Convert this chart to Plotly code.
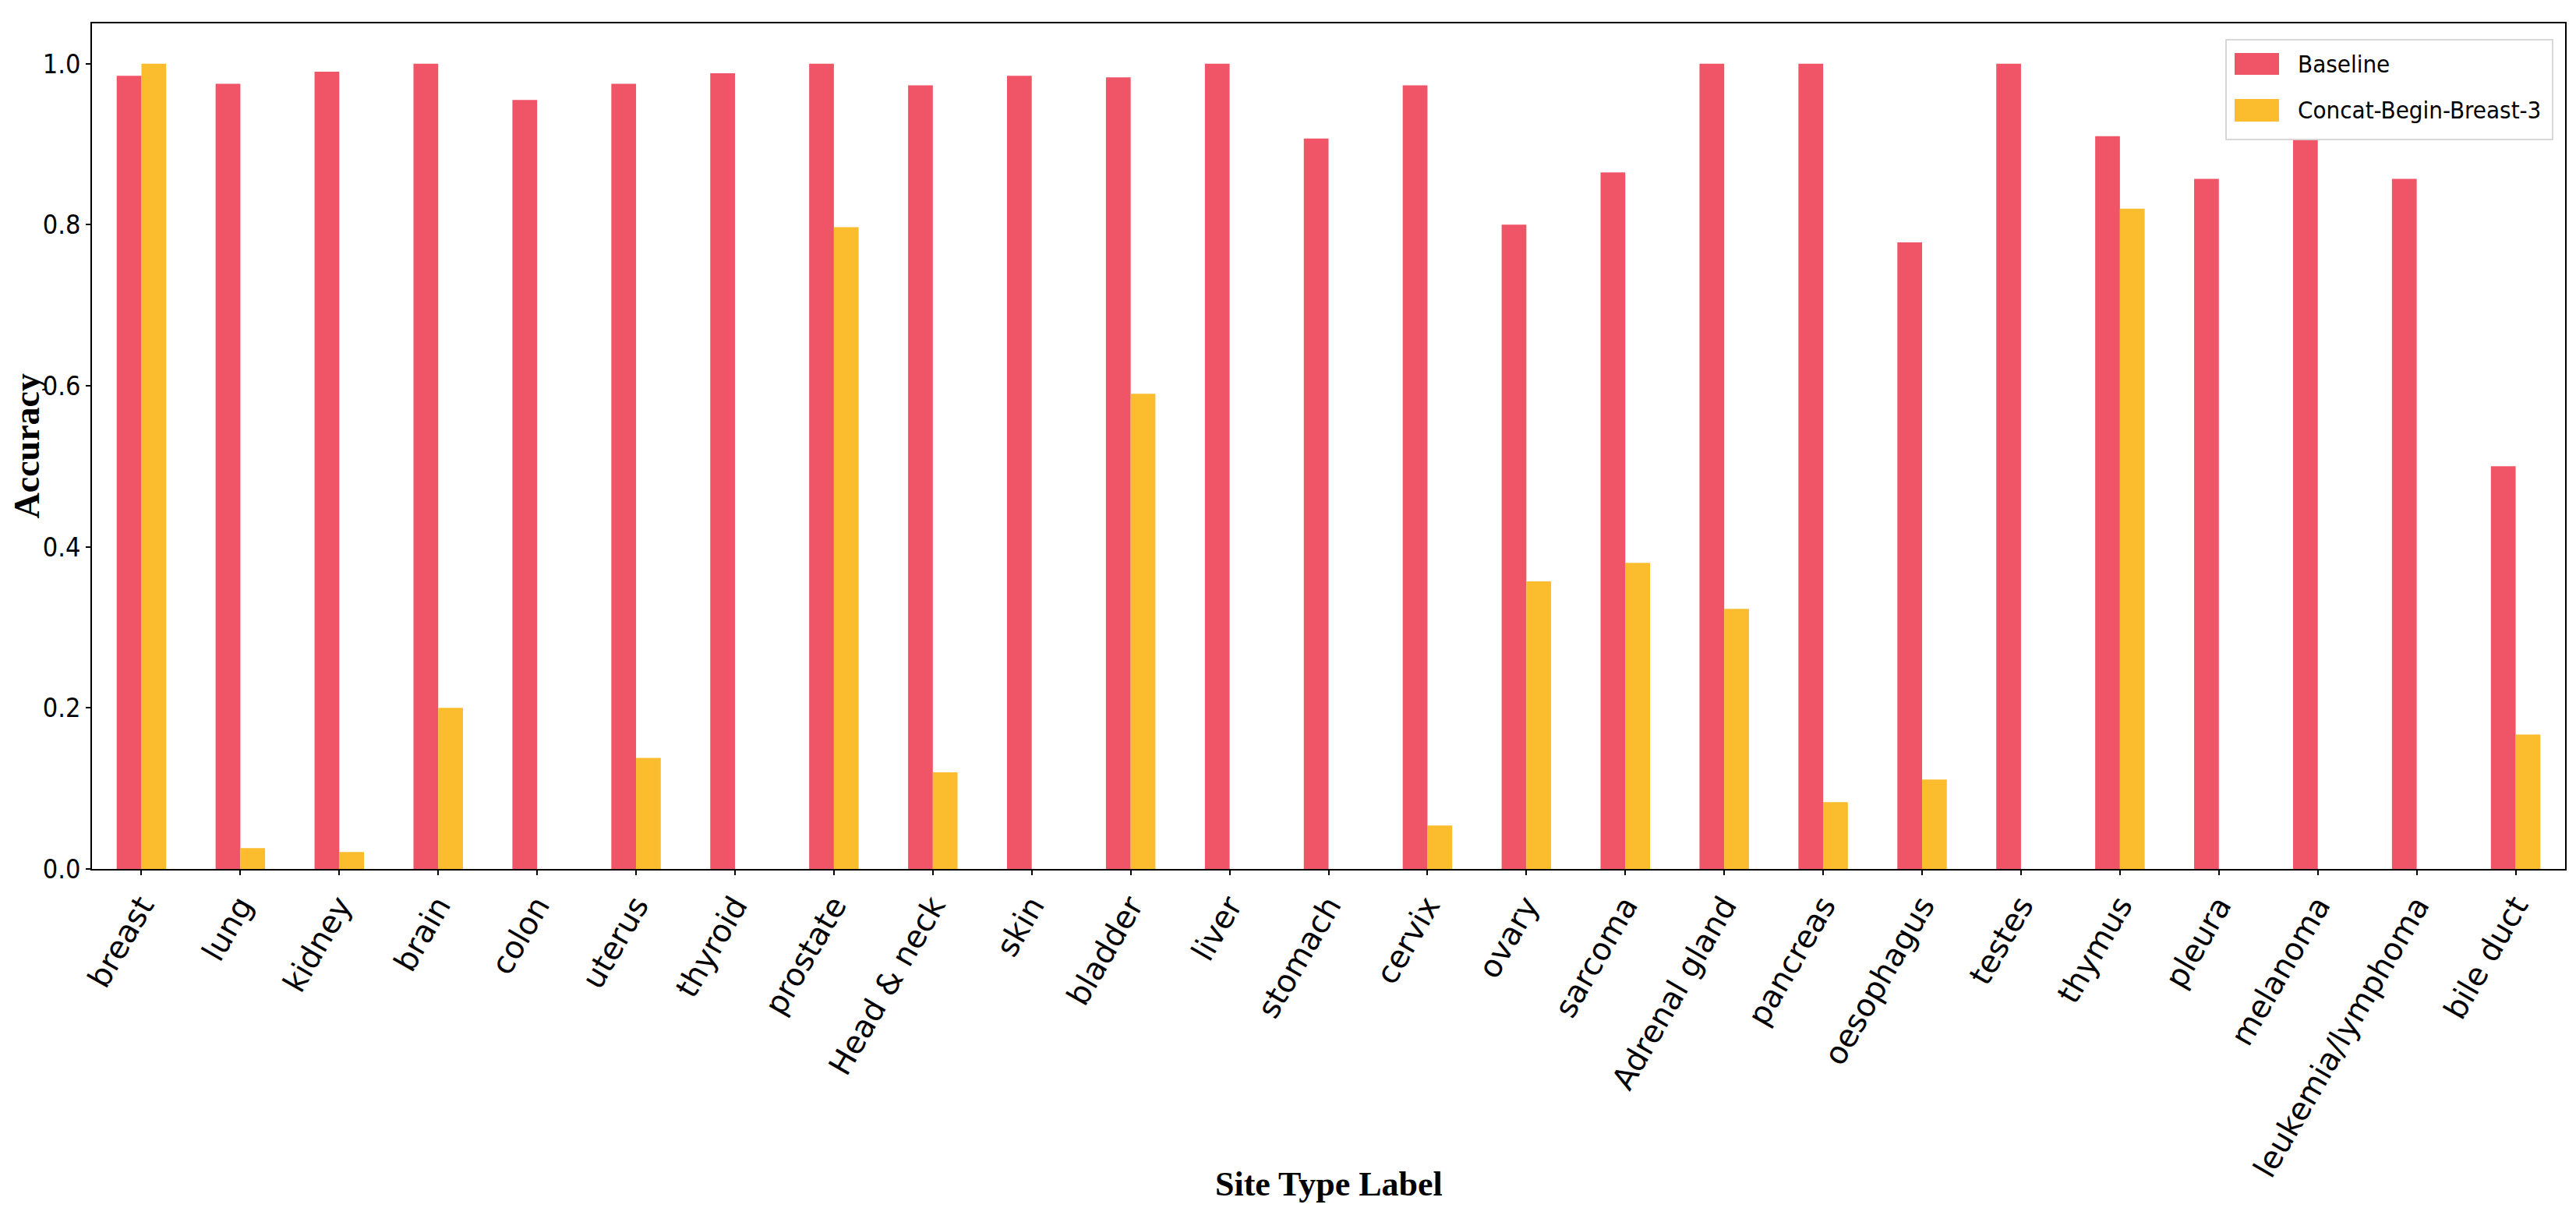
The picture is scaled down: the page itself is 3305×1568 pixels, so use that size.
import plotly.graph_objects as go

categories = ["breast", "lung", "kidney", "brain", "colon", "uterus", "thyroid", "prostate",
              "Head & neck", "skin", "bladder", "liver", "stomach", "cervix", "ovary", "sarcoma",
              "Adrenal gland", "pancreas", "oesophagus", "testes", "thymus", "pleura", "melanoma",
              "leukemia/lymphoma", "bile duct"]
baseline = [0.985, 0.975, 0.990, 1.0, 0.955, 0.975, 0.988, 1.0, 0.973, 0.985, 0.983, 1.0, 0.907,
            0.973, 0.800, 0.865, 1.0, 1.0, 0.778, 1.0, 0.910, 0.857, 0.905, 0.857, 0.500]
concat = [1.0, 0.026, 0.021, 0.200, 0.0, 0.138, 0.0, 0.797, 0.120, 0.0, 0.590, 0.0, 0.0,
          0.054, 0.357, 0.380, 0.323, 0.083, 0.111, 0.0, 0.820, 0.0, 0.0, 0.0, 0.167]
series_names = ["Baseline", "Concat-Begin-Breast-3"]
colors = ["#F05467", "#FBBC2D"]
y_ticks = [0.0, 0.2, 0.4, 0.6, 0.8, 1.0]

fig = go.Figure()
for name, vals, col in zip(series_names, [baseline, concat], colors):
    fig.add_trace(go.Bar(x=categories, y=vals, name=name, marker=dict(color=col, line=dict(width=0)),
                         showlegend=False))

W, H = 3305, 1568
L, R, T, B = 110, 22, 22, 461
pw, ph = W - L - R, H - T - B

def px(x):
    return (x - L) / pw

def py(y):
    return (H - B - y) / ph

narrow = "DejaVu Sans Condensed, Liberation Sans Narrow, sans-serif"
serif = "Liberation Serif, Times New Roman, serif"

shapes = [
    dict(type="rect", xref="paper", yref="paper", x0=px(2848), x1=px(3267), y0=py(171), y1=py(43),
         line=dict(color="#CCCCCC", width=1.5), fillcolor="rgba(255,255,255,0.85)", layer="above"),
    dict(type="rect", xref="paper", yref="paper", x0=px(2859), x1=px(2916), y0=py(88), y1=py(60),
         line=dict(width=0), fillcolor=colors[0], layer="above"),
    dict(type="rect", xref="paper", yref="paper", x0=px(2859), x1=px(2916), y0=py(148), y1=py(119),
         line=dict(width=0), fillcolor=colors[1], layer="above"),
]
annotations = [
    dict(text=series_names[0], xref="paper", yref="paper", x=px(2938), y=py(74), xanchor="left",
         yanchor="middle", showarrow=False, font=dict(family=narrow, size=31, color="black")),
    dict(text=series_names[1], xref="paper", yref="paper", x=px(2938), y=py(133), xanchor="left",
         yanchor="middle", showarrow=False, font=dict(family=narrow, size=31, color="black")),
    dict(text="<b>Site Type Label</b>", xref="paper", yref="paper", x=0.5, y=py(1511),
         xanchor="center", yanchor="middle", showarrow=False,
         font=dict(family=serif, size=44, color="black")),
    dict(text="<b>Accuracy</b>", xref="paper", yref="paper", x=px(26), y=0.5, textangle=-90,
         xanchor="center", yanchor="middle", showarrow=False,
         font=dict(family=serif, size=46, color="black")),
]

fig.update_layout(
    width=W, height=H,
    margin=dict(l=L, r=R, t=T, b=B, autoexpand=False),
    paper_bgcolor="white", plot_bgcolor="white",
    barmode="group", bargap=0.5, bargroupgap=0,
    shapes=shapes, annotations=annotations,
    showlegend=False,
)
fig.update_xaxes(
    type="category", range=[-0.5, len(categories) - 0.5], tickangle=-60,
    tickfont=dict(family="DejaVu Sans", size=40, color="black"),
    ticks="outside", ticklen=6, tickwidth=1.5, tickcolor="black",
    showline=True, linecolor="black", linewidth=1.5, mirror=True,
    showgrid=False, zeroline=False, automargin=False,
)
fig.update_yaxes(
    range=[0, 1.05], tickvals=y_ticks, ticktext=[f"{v:.1f}" for v in y_ticks],
    tickfont=dict(family=narrow, size=34, color="black"),
    ticks="outside", ticklen=6, tickwidth=1.5, tickcolor="black",
    showline=True, linecolor="black", linewidth=1.5, mirror=True,
    showgrid=False, zeroline=False, automargin=False,
)
fig.write_html("out.html")
